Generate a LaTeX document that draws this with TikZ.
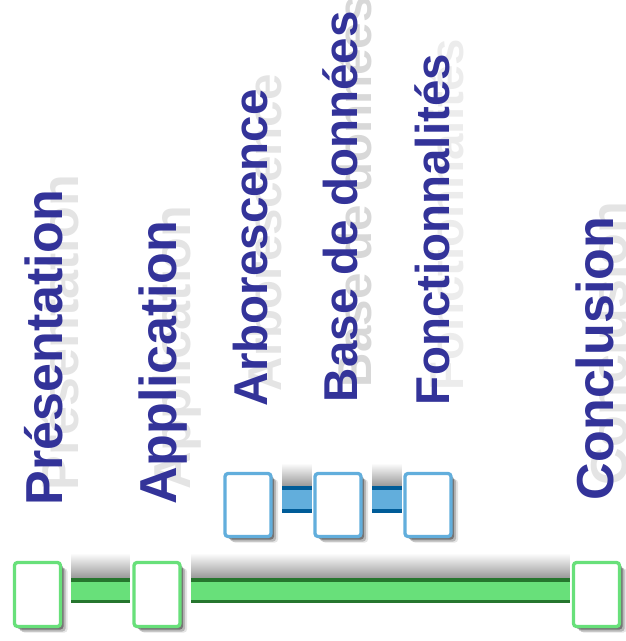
\documentclass[tikz,border=0pt]{standalone}
\usepackage{fontspec}
\setmainfont{Liberation Sans}
\usetikzlibrary{shadows}
\definecolor{txt}{RGB}{51,51,153}
\definecolor{ghost}{RGB}{228,228,228}
\definecolor{ghostdark}{RGB}{216,216,216}
\definecolor{ghostlight}{RGB}{236,236,236}
\definecolor{gl}{RGB}{104,224,122}
\definecolor{gd}{RGB}{38,118,46}
\definecolor{bl}{RGB}{98,174,220}
\definecolor{bd}{RGB}{0,92,152}
\pgfdeclarelayer{bgl}
\pgfdeclarelayer{barl}
\pgfdeclarelayer{whitel}
\pgfsetlayers{bgl,barl,whitel,main}
\begin{document}
\begin{tikzpicture}[x=1pt,y=-1pt,
  lab/.style={rotate=90,anchor=base west,inner sep=0pt,outer sep=0pt,text=txt,font=\bfseries\fontsize{52}{52}\selectfont},
  labs/.style={lab,font=\bfseries\fontsize{47.5}{47.5}\selectfont},
  ghostt/.style={text=ghost},
  boxshadow/.style={drop shadow={shadow xshift=3pt,shadow yshift=-3pt,opacity=.35,fill=black},
                    drop shadow={shadow xshift=5pt,shadow yshift=-5pt,opacity=.2,fill=black},
                    drop shadow={shadow xshift=7pt,shadow yshift=-6pt,opacity=.1,fill=black}},
  gbox/.style={boxshadow,draw=gl,line width=3.3pt,fill=white,rounded corners=3pt,minimum width=46pt,minimum height=64pt,inner sep=0pt},
  bbox/.style={gbox,draw=bl,minimum height=63pt},
  whitebg/.style={fill=white},
  band/.style={top color=white,bottom color=black!40}
]
\useasboundingbox (0,0) rectangle (626,641);

% ghost labels
\node[lab,ghostt] (gP) at (78,490) {Présentation};
\node[lab,ghostt] (gA) at (190,489) {Application};
\node[labs,ghostt] (gR) at (281,391) {Arborescence};
\node[labs,ghostt,text=ghostdark] (gB) at (371,387) {Base de données};
\node[labs,ghostt,text=ghostlight] (gF) at (463,390) {Fonctionnalités};
\node[lab,ghostt] (gC) at (627,485) {Conclusion};

% labels
\node[lab] (lP) at (63,505) {Présentation};
\node[lab] (lA) at (176,504) {Application};
\node[labs] (lR) at (267,406) {Arborescence};
\node[labs] (lB) at (357,402) {Base de données};
\node[labs] (lF) at (449,405) {Fonctionnalités};
\node[lab] (lC) at (613,500) {Conclusion};

% boxes
\node[gbox] (G1) at (37.5,594.5) {};
\node[gbox] (G2) at (157,594.5) {};
\node[gbox] (G3) at (596.5,594.5) {};
\node[bbox] (B1) at (248,505) {};
\node[bbox] (B2) at (338,505) {};
\node[bbox] (B3) at (428,505) {};

\begin{pgfonlayer}{bgl}
  \shade[band] (60,553) rectangle (575,578);
  \shade[band] (250,463) rectangle (430,486);
\end{pgfonlayer}
\begin{pgfonlayer}{barl}
  \draw[gd,line width=25pt] ([yshift=4pt]G1.center) -- ([yshift=4pt]G2.center) -- ([yshift=4pt]G3.center);
  \draw[gl,line width=18pt] ([yshift=3.5pt]G1.center) -- ([yshift=3.5pt]G2.center) -- ([yshift=3.5pt]G3.center);
  \draw[bd,line width=27pt] ([yshift=5.5pt]B1.center) -- ([yshift=5.5pt]B2.center) -- ([yshift=5.5pt]B3.center);
  \draw[bl,line width=19pt] ([yshift=5.5pt]B1.center) -- ([yshift=5.5pt]B2.center) -- ([yshift=5.5pt]B3.center);
\end{pgfonlayer}
\begin{pgfonlayer}{whitel}
  \fill[whitebg] (0,553) rectangle (71,641);
  \fill[whitebg] (130,553) rectangle (191,641);
  \fill[whitebg] (570,553) rectangle (626,641);
  \fill[whitebg] (215,463) rectangle (282,548);
  \fill[whitebg] (312,463) rectangle (372,548);
  \fill[whitebg] (402,463) rectangle (465,548);
\end{pgfonlayer}
\end{tikzpicture}
\end{document}
